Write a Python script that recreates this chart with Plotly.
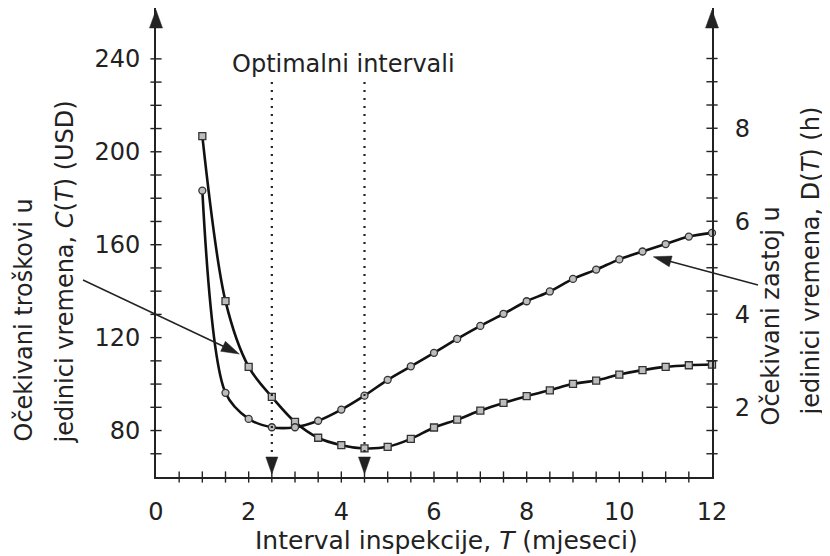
import math
import plotly.graph_objects as go

# ---------------- data ----------------
T = [1.0, 1.5, 2.0, 2.5, 3.0, 3.5, 4.0, 4.5, 5.0, 5.5, 6.0, 6.5,
     7.0, 7.5, 8.0, 8.5, 9.0, 9.5, 10.0, 10.5, 11.0, 11.5, 12.0]
C_cost = [206.7, 135.7, 107.4, 94.5, 83.7, 76.9, 73.7, 72.3, 73.0, 76.4, 81.3, 84.7,
          88.6, 91.9, 94.8, 97.3, 100.1, 101.5, 104.1, 106.0, 107.4, 108.1, 108.4]
D_down = [6.66, 2.31, 1.75, 1.57, 1.57, 1.71, 1.95, 2.25, 2.59, 2.88, 3.17, 3.47,
          3.75, 4.01, 4.28, 4.49, 4.76, 4.96, 5.18, 5.35, 5.51, 5.67, 5.75]
optimal_T = [2.5, 4.5]

x_labels = [0, 2, 4, 6, 8, 10, 12]
x_minor = [0.5 * i for i in range(1, 24)]
yl_labels = [80, 120, 160, 200, 240]
yl_minor = [70 + 10 * i for i in range(18)]
yr_labels = [2, 4, 6, 8]
yr_minor = [1.0 + 0.5 * i for i in range(18)]

# ---------------- geometry (window pixels; page body has an 8px margin) ----------------
PAGE = 8
WIN_W, WIN_H = 830, 556
W, H = WIN_W - PAGE, WIN_H - PAGE
L, R, TOP, BOT = 156, 712, 8, 477
YL = [60, 60 + (BOT - TOP) / 2.323]
YR = [0.5, 0.5 + (BOT - TOP) / 46.5]
XR = [0, 12]

FONT = "DejaVu Sans"
FS = 24
INK = "#222222"


def px(xp):
    return (xp - L) / (R - L)


def py(yp):
    return (BOT - yp) / (BOT - TOP)


def frac(v, rng):
    return (v - rng[0]) / (rng[1] - rng[0])


fig = go.Figure()

fig.add_trace(go.Scatter(
    x=T, y=C_cost, mode="lines+markers", yaxis="y", xaxis="x",
    line=dict(color="#111111", width=2.6, shape="spline", smoothing=0.9),
    marker=dict(symbol="square", size=7, color="#bdbdbd",
                line=dict(color="#333333", width=1.3)),
    cliponaxis=False, showlegend=False, hoverinfo="skip"))
fig.add_trace(go.Scatter(
    x=T, y=D_down, mode="lines+markers", yaxis="y2", xaxis="x",
    line=dict(color="#111111", width=2.6, shape="spline", smoothing=0.9),
    marker=dict(symbol="circle", size=7, color="#bdbdbd",
                line=dict(color="#333333", width=1.3)),
    cliponaxis=False, showlegend=False, hoverinfo="skip"))

# tick marks crossing the axis lines (line-shaped markers placed on the axes)
TICK = dict(size=8, line=dict(color=INK, width=1.4), color=INK)
fig.add_trace(go.Scatter(x=x_minor, y=[YL[0]] * len(x_minor), mode="markers",
                         xaxis="x", yaxis="y", cliponaxis=False, showlegend=False,
                         hoverinfo="skip", marker=dict(symbol="line-ns", **TICK)))
fig.add_trace(go.Scatter(x=[XR[0]] * len(yl_minor), y=yl_minor, mode="markers",
                         xaxis="x", yaxis="y", cliponaxis=False, showlegend=False,
                         hoverinfo="skip", marker=dict(symbol="line-ew", **TICK)))
fig.add_trace(go.Scatter(x=[XR[1]] * len(yr_minor), y=yr_minor, mode="markers",
                         xaxis="x", yaxis="y2", cliponaxis=False, showlegend=False,
                         hoverinfo="skip", marker=dict(symbol="line-ew", **TICK)))

tickfont = dict(family=FONT, size=FS, color=INK)
common_line = dict(showline=True, linecolor=INK, linewidth=1.8, showgrid=False,
                   zeroline=False, fixedrange=True, ticks="")

fig.update_layout(
    width=W, height=H,
    margin=dict(l=L - PAGE, r=WIN_W - R, t=TOP - PAGE, b=WIN_H - BOT, pad=0),
    paper_bgcolor="white", plot_bgcolor="white",
    font=dict(family=FONT, size=FS, color=INK),
    xaxis=dict(range=XR, tickvals=x_labels, ticktext=[str(v) for v in x_labels],
               tickfont=tickfont, ticklabelstandoff=12, anchor="y", **common_line),
    yaxis=dict(range=YL, tickvals=yl_labels, ticktext=[str(v) for v in yl_labels],
               tickfont=tickfont, ticklabelstandoff=9, anchor="x",
               side="left", **common_line),
    yaxis2=dict(range=YR, tickvals=yr_labels, ticktext=[str(v) for v in yr_labels],
                tickfont=tickfont, ticklabelstandoff=16, anchor="x",
                side="right", overlaying="y", **common_line),
)

shapes = []


def head(xa, ya, ux, uy, length=18, width=12):
    """filled triangle arrowhead, tip at paper (xa, ya), direction (ux, uy) screen px"""
    n = math.hypot(ux, uy)
    ux, uy = ux / n, uy / n
    nx, ny = -uy, ux
    bx, by = -ux * length, -uy * length
    pts = [(0, 0), (bx + nx * width / 2, by + ny * width / 2),
           (bx - nx * width / 2, by - ny * width / 2)]
    path = "M " + " L ".join(f"{x:.2f},{-y:.2f}" for x, y in pts) + " Z"
    shapes.append(dict(type="path", xref="paper", yref="paper",
                       xsizemode="pixel", ysizemode="pixel",
                       xanchor=xa, yanchor=ya, path=path,
                       fillcolor=INK, line=dict(color=INK, width=0.5), layer="above"))


def seg(x0p, y0p, x1p, y1p, width=1.3, dash=None):
    shapes.append(dict(type="line", xref="paper", yref="paper",
                       x0=px(x0p), y0=py(y0p), x1=px(x1p), y1=py(y1p),
                       line=dict(color=INK, width=width, dash=dash), layer="above"))


# axis arrows (top of the two vertical axes)
head(px(L), py(10), 0, -1, 18, 13)
head(px(R), py(10), 0, -1, 18, 13)

# dotted optimum lines with arrowheads
for t in optimal_T:
    xp = L + frac(t, XR) * (R - L)
    seg(xp, 82, xp, 458, width=2.2, dash="2px,6px")
    head(px(xp), py(474), 0, 1, 17, 12)

# annotation arrows
seg(83, 280, 228, 348.5, width=1.4)
head(px(239.3), py(354), 239.3 - 83, 354 - 280, 18, 11)
seg(758, 285, 664, 259.7, width=1.4)
head(px(653.3), py(256.7), 653.3 - 758, 256.7 - 285, 18, 11)

fig.update_layout(shapes=shapes)

ann = []


def text(s, xp, yp, angle=0, xanchor="center", yanchor="middle", size=FS):
    ann.append(dict(text=s, x=px(xp), y=py(yp), xref="paper", yref="paper",
                    showarrow=False, textangle=angle, xanchor=xanchor,
                    yanchor=yanchor, font=dict(family=FONT, size=size, color=INK)))


text("Optimalni intervali", 343.5, 64)
text("Interval inspekcije, <i>T</i> (mjeseci)", 446.5, 540, size=25)
text("Očekivani troškovi u", 23, 444, angle=-90, yanchor="bottom")
text("jedinici vremena, <i>C</i>(<i>T</i>) (USD)", 64, 446, angle=-90, yanchor="bottom")
text("Očekivani zastoj u", 770, 428, angle=-90, yanchor="bottom")
text("jedinici vremena, D(<i>T</i>) (h)", 810, 418, angle=-90, yanchor="bottom")

fig.update_layout(annotations=ann)

fig.write_html("out.html")
